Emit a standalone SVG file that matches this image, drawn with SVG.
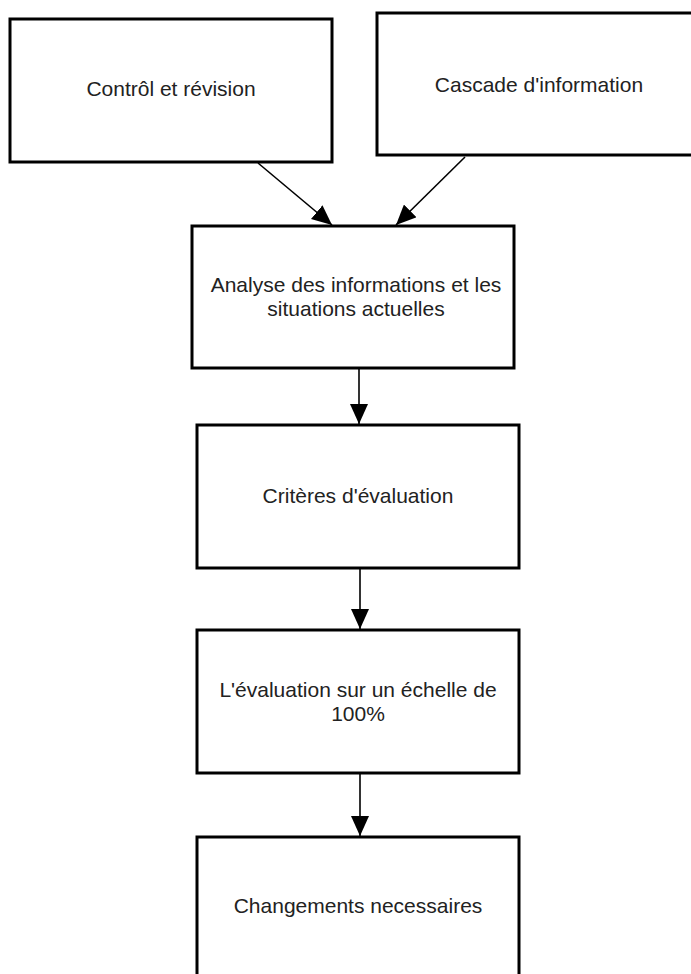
<svg xmlns="http://www.w3.org/2000/svg" width="691" height="974" viewBox="0 0 691 974">
  <defs>
    <marker id="arrow" viewBox="0 0 20 18" refX="20" refY="9" markerWidth="20" markerHeight="18" markerUnits="userSpaceOnUse" orient="auto">
      <path d="M0,0 L20,9 L0,18 Z" fill="#000"/>
    </marker>
    <style>
      .box { fill: #fff; stroke: #000; stroke-width: 3; }
      .label { font-family: "Liberation Sans", Arial, sans-serif; font-size: 21px; fill: #222; text-anchor: middle; }
      .edge { stroke: #000; stroke-width: 1.6; fill: none; marker-end: url(#arrow); }
    </style>
  </defs>
  <rect width="691" height="974" fill="#fff"/>

  <g id="controle">
    <rect class="box" x="10" y="19" width="322" height="143"/>
    <text class="label" x="171" y="96">Contrôl et révision</text>
  </g>

  <g id="cascade">
    <rect class="box" x="377" y="13" width="330" height="142"/>
    <text class="label" x="539" y="92">Cascade d'information</text>
  </g>

  <g id="analyse">
    <rect class="box" x="192" y="226" width="322" height="142"/>
    <text class="label" x="356" y="292">Analyse des informations et les</text>
    <text class="label" x="356" y="316">situations actuelles</text>
  </g>

  <g id="criteres">
    <rect class="box" x="197" y="425" width="322" height="143"/>
    <text class="label" x="358" y="503">Critères d'évaluation</text>
  </g>

  <g id="evaluation">
    <rect class="box" x="197" y="630" width="322" height="143"/>
    <text class="label" x="358" y="697">L'évaluation sur un échelle de</text>
    <text class="label" x="358" y="721">100%</text>
  </g>

  <g id="changements">
    <rect class="box" x="197" y="837" width="322" height="160"/>
    <text class="label" x="358" y="913">Changements necessaires</text>
  </g>

  <g id="connectors">
    <line class="edge" x1="258" y1="163" x2="332" y2="225"/>
    <line class="edge" x1="465" y1="157" x2="396" y2="225"/>
    <line class="edge" x1="359" y1="369" x2="359" y2="424"/>
    <line class="edge" x1="360" y1="569" x2="360" y2="629"/>
    <line class="edge" x1="360" y1="774" x2="360" y2="836"/>
  </g>
</svg>
